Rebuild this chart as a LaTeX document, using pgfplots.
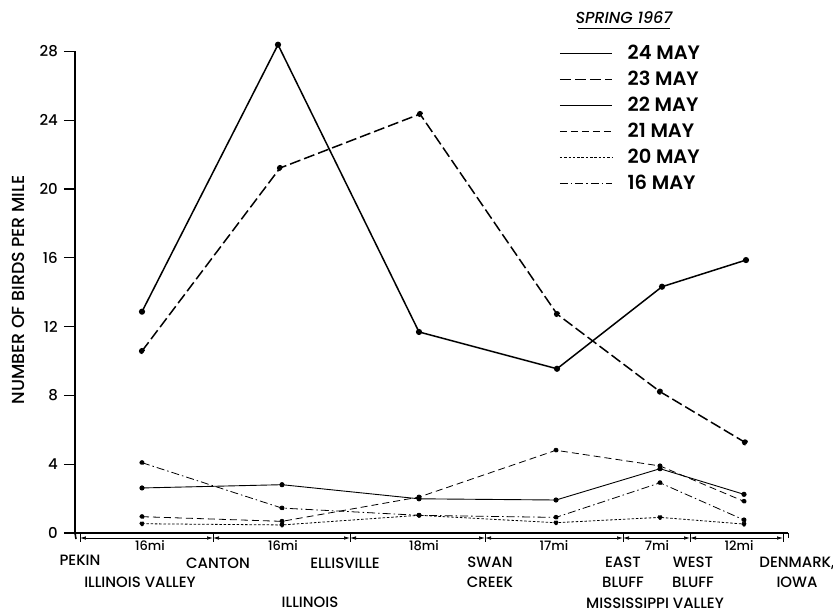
\documentclass[border=0pt]{standalone}
\usepackage{pgfplots}
\pgfplotsset{compat=1.18}
\usepackage{fontspec}
\setmainfont{Poppins}[UprightFont=* Medium, ItalicFont=* Medium Italic, BoldFont=* SemiBold]
\usetikzlibrary{arrows.meta}

% thin and thick line styles for the six survey dates
\tikzset{
  may24/.style={black, line width=1.5bp, mark=*, mark size=2.3bp},
  may23/.style={black, line width=1.5bp, dash pattern=on 11bp off 4bp, mark=*, mark size=2.3bp},
  may22/.style={black, line width=0.9bp, mark=*, mark size=2.1bp},
  may21/.style={black, line width=0.8bp, dash pattern=on 7bp off 4bp, mark=*, mark size=2.1bp},
  may20/.style={black, line width=0.8bp, dash pattern=on 2.5bp off 1.8bp, mark=*, mark size=2.1bp},
  may16/.style={black, line width=0.8bp, dash pattern=on 8bp off 3bp on 1.5bp off 3bp, mark=*, mark size=2.1bp},
  dimarrow/.style={line width=0.7bp, {Latex[length=6bp,width=3.5bp]}-{Latex[length=6bp,width=3.5bp]}},
}

\begin{document}
\begin{tikzpicture}
\begin{axis}[
  x=1bp, y=17.2bp,
  xmin=75, xmax=788, ymin=0, ymax=28,
  clip=false,
  axis lines=left,
  axis line style={line width=1.6bp, -},
  xtick=\empty,
  ytick={0,4,...,28},
  tick align=outside,
  major tick length=11bp,
  ytick style={line width=1.1bp, black},
  yticklabel style={font=\fontsize{15}{15}\selectfont, inner sep=0pt, xshift=-6bp},
  /pgf/number format/assume math mode=true,
  legend style={at={(axis cs:559,28.37)}, anchor=north west, draw=none, fill=none,
    inner sep=0pt, row sep=10bp,
    font=\fontsize{19.5}{19.5}\selectfont\bfseries,
    nodes={text height=12bp, text depth=0bp, inner ysep=2bp, inner xsep=0bp}},
  legend cell align=left,
  legend image code/.code={\draw[#1] (0bp,0bp) -- (52bp,0bp); \path (67bp,0bp);},
]

% 24 May
\addplot[may24] coordinates {(142,12.87) (278,28.39) (419,11.69) (557,9.55) (662,14.32) (746,15.87)};
\addlegendentry{24 MAY}
% 23 May
\addplot[may23] coordinates {(142,10.58) (280,21.22) (420,24.36) (557,12.73) (660,8.22) (745,5.27)};
\addlegendentry{23 MAY}
% 22 May
\addplot[may22] coordinates {(142,2.62) (282,2.81) (419,1.99) (556,1.92) (660,3.74) (744,2.25)};
\addlegendentry{22 MAY}
% 21 May
\addplot[may21] coordinates {(142,0.95) (282,0.68) (419,2.09) (556,4.81) (660,3.90) (744,1.84)};
\addlegendentry{21 MAY}
% 20 May
\addplot[may20] coordinates {(142,0.54) (282,0.47) (419,1.03) (556,0.60) (660,0.91) (744,0.52)};
\addlegendentry{20 MAY}
% 16 May
\addplot[may16] coordinates {(142,4.09) (282,1.45) (419,1.03) (556,0.91) (660,2.92) (744,0.76)};
\addlegendentry{16 MAY}

% y axis runs just past the baseline
\draw[line width=1.6bp] (axis cs:75,0) -- (axis cs:76,-0.35);
\draw[line width=1.0bp] (axis cs:788,0) -- (axis cs:788,-0.3);

% distance line between the stations
\draw[dimarrow] (axis cs:80,-0.29) -- (axis cs:213,-0.29);
\draw[dimarrow] (axis cs:213,-0.29) -- (axis cs:350,-0.29);
\draw[dimarrow] (axis cs:350,-0.29) -- (axis cs:485,-0.29);
\draw[dimarrow] (axis cs:485,-0.29) -- (axis cs:623,-0.29);
\draw[dimarrow] (axis cs:623,-0.29) -- (axis cs:690,-0.29);
\draw[dimarrow] (axis cs:690,-0.29) -- (axis cs:783,-0.29);
\draw[line width=0.8bp] (axis cs:80,-0.08) -- (axis cs:80,-0.5);
\draw[line width=0.8bp] (axis cs:213,-0.08) -- (axis cs:213,-0.5);
\draw[line width=0.8bp] (axis cs:350,-0.08) -- (axis cs:350,-0.5);
\draw[line width=0.8bp] (axis cs:485,-0.08) -- (axis cs:485,-0.5);
\draw[line width=0.8bp] (axis cs:623,-0.08) -- (axis cs:623,-0.5);
\draw[line width=0.8bp] (axis cs:690,-0.08) -- (axis cs:690,-0.5);
\draw[line width=0.8bp] (axis cs:783,-0.08) -- (axis cs:783,-0.5);

% leg lengths
\begin{scope}[every node/.style={font=\fontsize{13}{13}\selectfont, inner sep=0pt, anchor=north}]
  \node at (axis cs:150,-0.42) {16mi};
  \node at (axis cs:283,-0.42) {16mi};
  \node at (axis cs:424,-0.42) {18mi};
  \node at (axis cs:554,-0.42) {17mi};
  \node at (axis cs:657,-0.42) {7mi};
  \node at (axis cs:739,-0.42) {12mi};
\end{scope}

% stations and regions
\begin{scope}[every node/.style={font=\fontsize{15}{20}\selectfont, inner sep=0pt, align=center}]
  \node at (axis cs:80,-1.57) {PEKIN};
  \node at (axis cs:218,-1.74) {CANTON};
  \node at (axis cs:345,-1.74) {ELLISVILLE};
  \node at (axis cs:140,-2.85) {ILLINOIS VALLEY};
  \node at (axis cs:310,-4.02) {ILLINOIS};
  \node at (axis cs:490,-2.27) {SWAN\\CREEK};
  \node at (axis cs:623,-2.27) {EAST\\BLUFF};
  \node at (axis cs:693,-2.27) {WEST\\BLUFF};
  \node at (axis cs:797,-2.27) {DENMARK,\\IOWA};
  \node at (axis cs:655,-4.08) {MISSISSIPPI VALLEY};
\end{scope}

% y axis title
\node[rotate=90, font=\fontsize{17.5}{17.5}\selectfont, inner sep=0pt] at (axis cs:18,14.13) {NUMBER OF BIRDS PER MILE};

% legend heading
\node[font=\fontsize{16}{16}\itshape, inner sep=0pt] at (axis cs:624,29.94) {SPRING 1967};
\draw[line width=0.8bp] (axis cs:578,29.36) -- (axis cs:670,29.36);

% page frame
\coordinate (pbl) at (axis cs:0,-4.709);
\coordinate (ptr) at (axis cs:833,30.99);
\end{axis}
\pgfresetboundingbox
\path[use as bounding box] (pbl) rectangle (ptr);
\end{tikzpicture}
\end{document}
